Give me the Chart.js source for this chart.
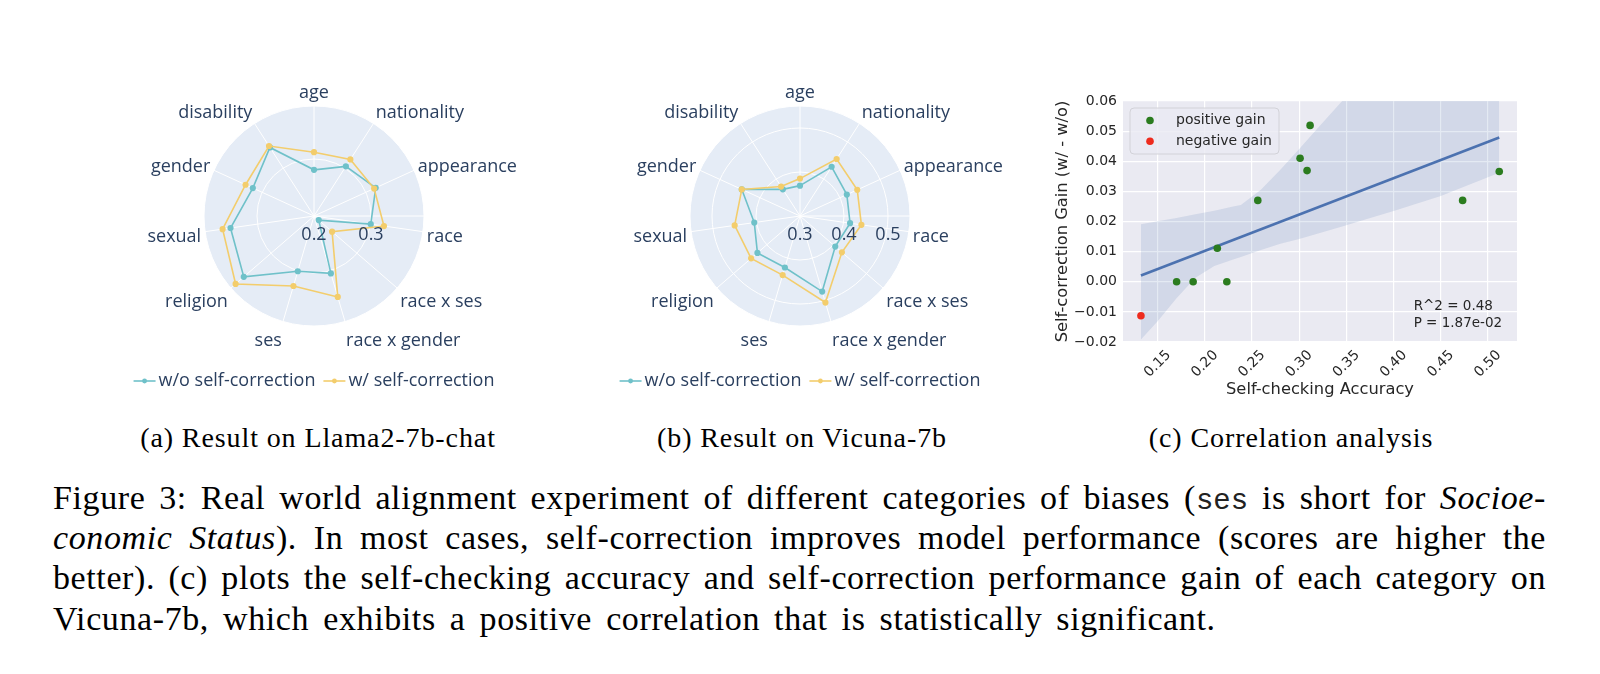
<!DOCTYPE html>
<html>
<head>
<meta charset="utf-8">
<script src="https://cdn.jsdelivr.net/npm/chart.js@4.4.1/dist/chart.umd.min.js"></script>
<style>
  body { margin:0; background:#fff; width:1600px; height:674px; position:relative; overflow:hidden; }
  canvas { position:absolute; }
  #radarA { left:110px; top:70px; }
  #radarB { left:596px; top:70px; }
  #scatterC { left:1020px; top:85px; }
  .sub { position:absolute; top:424px; transform:translateX(-50%); font:28px/28px "Liberation Serif", serif; letter-spacing:0.9px; white-space:nowrap; color:#000; }
  .cap { position:absolute; left:53px; width:1493px; font:34px/34px "Liberation Serif", serif; letter-spacing:0.6px; white-space:nowrap; color:#000; }
  .just { text-align:justify; text-align-last:justify; }
  .cap tt { font-family:"Liberation Mono", monospace; font-size:29px; letter-spacing:0; color:#222; }
</style>
</head>
<body>
<canvas id="radarA" width="420" height="340"></canvas>
<canvas id="radarB" width="420" height="340"></canvas>
<canvas id="scatterC" width="580" height="320"></canvas>

<div class="sub" style="left:318px">(a) Result on Llama2-7b-chat</div>
<div class="sub" style="left:802px">(b) Result on Vicuna-7b</div>
<div class="sub" style="left:1291px">(c) Correlation analysis</div>

<div class="cap just" style="top:481px">Figure 3: Real world alignment experiment of different categories of biases (<tt>ses</tt> is short for <i>Socioe-</i></div>
<div class="cap just" style="top:521px"><i>conomic Status</i>). In most cases, self-correction improves model performance (scores are higher the</div>
<div class="cap just" style="top:561px">better). (c) plots the self-checking accuracy and self-correction performance gain of each category on</div>
<div class="cap" style="top:602px; word-spacing:5px">Vicuna-7b, which exhibits a positive correlation that is statistically significant.</div>

<script>
// DATA
const categories = ['age','nationality','appearance','race','race x ses','race x gender','ses','religion','sexual','gender','disability'];

// (a) Llama2-7b-chat
const llamaWithout = [0.281, 0.3035, 0.319, 0.3006, 0.211, 0.305, 0.301, 0.363, 0.348, 0.318, 0.343];
const llamaWith    = [0.312, 0.318, 0.316, 0.324, 0.242, 0.348, 0.328, 0.382, 0.362, 0.332, 0.346];
const llamaRange = [0.2, 0.393];
const llamaTicks = [0.2, 0.3];

// (b) Vicuna-7b
const vicunaWithout = [0.369, 0.433, 0.417, 0.415, 0.406, 0.479, 0.422, 0.428, 0.405, 0.4455, 0.372];
const vicunaWith    = [0.385, 0.454, 0.443, 0.441, 0.426, 0.505, 0.440, 0.447, 0.450, 0.4455, 0.3795];
const vicunaRange = [0.3, 0.55];
const vicunaTicks = [0.3, 0.4, 0.5];

// (c) correlation (Vicuna-7b, one point per category)
const checkAcc = [0.1323, 0.1701, 0.1876, 0.2132, 0.2233, 0.2561, 0.3009, 0.3083, 0.3115, 0.4731, 0.5119];
const corrGain = [-0.0113, 0.0, 0.0, 0.0111, 0.0, 0.027, 0.041, 0.0369, 0.0519, 0.027, 0.0366];
const fitX = [0.1323, 0.5119];
const fitY = [0.0021, 0.0479];
const bandX     = [0.1323, 0.15, 0.17, 0.19, 0.21, 0.23, 0.2382, 0.2594, 0.28, 0.30, 0.32, 0.3455, 0.37, 0.40, 0.45, 0.5119];
const bandUpper = [0.0191, 0.0201, 0.0212, 0.0224, 0.0236, 0.0250, 0.0255, 0.0305, 0.0372, 0.0441, 0.0511, 0.0600, 0.068, 0.078, 0.092, 0.11];
const bandLower = [-0.0192, -0.0131, -0.0055, 0.0013, 0.0052, 0.0074, 0.0082, 0.0105, 0.0126, 0.0142, 0.0160, 0.0183, 0.0207, 0.0235, 0.0285, 0.0362];
const accRange = [0.1133, 0.5307];
const gainRange = [-0.02, 0.06];
const accTicks = [0.15, 0.20, 0.25, 0.30, 0.35, 0.40, 0.45, 0.50];
const gainTicks = [-0.02, -0.01, 0.00, 0.01, 0.02, 0.03, 0.04, 0.05, 0.06];
const statLines = ['R^2 = 0.48', 'P = 1.87e-02'];

// COLORS
const teal = '#6fc1c9';
const yellow = '#f3cd6c';
const navy = '#2a3f5f';
const green = '#2b7c1f';
const red = '#ee2b1d';
const blue = '#4c72b0';

// RADAR DECORATION (labels, radial axis, legend)
const radarDeco = {
  id:'radarDeco',
  beforeDatasetsDraw(chart){
    const s = chart.scales.r, ctx = chart.ctx;
    ctx.save();
    ctx.strokeStyle = '#fff'; ctx.lineWidth = 1;
    ctx.beginPath(); ctx.moveTo(s.xCenter, s.yCenter); ctx.lineTo(s.xCenter + s.drawingArea, s.yCenter); ctx.stroke();
    ctx.restore();
  },
  afterDraw(chart, args, opts){
    const s = chart.scales.r, ctx = chart.ctx;
    ctx.save();
    ctx.fillStyle = navy;
    ctx.font = '18px "Open Sans"';
    ctx.textBaseline = 'middle';
    // category labels
    chart.data.labels.forEach((lab,i)=>{
      const d = s.drawingArea + 4;
      const p = s.getPointPosition(i, d);
      const c = (p.x - s.xCenter)/d, sn = -(p.y - s.yCenter)/d;
      ctx.textAlign = Math.abs(c) < 0.05 ? 'center' : (c > 0 ? 'left' : 'right');
      ctx.fillText(lab, p.x, p.y + 3 - 12.5*sn);
    });
    // radial tick labels
    ctx.textAlign = 'center';
    opts.ticks.forEach(v=>{
      ctx.fillText(String(v), s.xCenter + s.getDistanceFromCenterForValue(v), s.yCenter + 19);
    });
    // legend
    const ds = chart.data.datasets.slice().sort((a,b)=>b.order-a.order);
    const widths = ds.map(d=>ctx.measureText(d.label).width);
    const sample = 22, gapT = 3, gapI = 8;
    const total = widths.reduce((t,w)=>t+sample+gapT+w,0) + gapI*(ds.length-1);
    let lx = s.xCenter - total/2;
    const ly = s.yCenter + 165;
    ds.forEach((d,i)=>{
      ctx.strokeStyle = d.borderColor; ctx.lineWidth = 1.6;
      ctx.beginPath(); ctx.moveTo(lx, ly); ctx.lineTo(lx+sample, ly); ctx.stroke();
      ctx.fillStyle = d.borderColor;
      ctx.beginPath(); ctx.arc(lx+sample/2, ly, 2.4, 0, Math.PI*2); ctx.fill();
      ctx.fillStyle = navy; ctx.textAlign = 'left';
      ctx.fillText(d.label, lx+sample+gapT, ly);
      lx += sample + gapT + widths[i] + gapI;
    });
    ctx.restore();
  }
};

function makeRadar(id, without, withC, range, ticks){
  return new Chart(document.getElementById(id), {
    type:'radar',
    data:{
      labels:categories,
      datasets:[
        {label:'w/o self-correction', data:without, borderColor:teal, backgroundColor:teal, pointBackgroundColor:teal, pointBorderColor:teal, pointRadius:2.3, borderWidth:1.6, fill:false, order:1},
        {label:'w/ self-correction', data:withC, borderColor:yellow, backgroundColor:yellow, pointBackgroundColor:yellow, pointBorderColor:yellow, pointRadius:2.3, borderWidth:1.6, fill:false, order:0}
      ]
    },
    options:{
      responsive:false, animation:false,
      layout:{padding:{left:94, top:36, right:106, bottom:84}},
      elements:{line:{tension:0}},
      plugins:{legend:{display:false}, tooltip:{enabled:false}, radarDeco:{ticks:ticks}},
      scales:{
        r:{
          min:range[0], max:range[1],
          backgroundColor:'#e5ecf6',
          grid:{circular:true, color:'#ffffff', lineWidth:1},
          angleLines:{color:'#ffffff', lineWidth:1},
          ticks:{display:false, stepSize:0.1},
          pointLabels:{display:false}
        }
      }
    },
    plugins:[radarDeco]
  });
}

makeRadar('radarA', llamaWithout, llamaWith, llamaRange, llamaTicks);
makeRadar('radarB', vicunaWithout, vicunaWith, vicunaRange, vicunaTicks);

// SCATTER + REGRESSION
function fmt(v){ return v.toFixed(2).replace('-', '\u2212'); }
const posPts = [], negPts = [];
checkAcc.forEach((x,i)=>{ (corrGain[i] < 0 ? negPts : posPts).push({x:x, y:corrGain[i]}); });

const scatterDeco = {
  id:'scatterDeco',
  beforeDraw(chart){
    const {ctx, chartArea:a} = chart;
    ctx.save(); ctx.fillStyle = '#eaeaf2';
    ctx.fillRect(a.left, a.top, a.right-a.left, a.bottom-a.top);
    ctx.restore();
  },
  afterDraw(chart){
    const {ctx, chartArea:a, scales:{x, y}} = chart;
    ctx.save();
    ctx.fillStyle = '#262626';
    ctx.font = '14px "DejaVu Sans"';
    ctx.textBaseline = 'middle';
    ctx.textAlign = 'right';
    gainTicks.forEach(v=>ctx.fillText(fmt(v), a.left-6, y.getPixelForValue(v)));
    ctx.textAlign = 'center';
    accTicks.forEach(v=>{
      ctx.save();
      ctx.translate(x.getPixelForValue(v), a.bottom+22);
      ctx.rotate(-Math.PI/4);
      ctx.fillText(v.toFixed(2), 0, 0);
      ctx.restore();
    });
    // axis titles
    ctx.font = '16.3px "DejaVu Sans"';
    ctx.fillText('Self-checking Accuracy', (a.left+a.right)/2, a.bottom+48);
    ctx.save();
    ctx.translate(a.left-60, (a.top+a.bottom)/2);
    ctx.rotate(-Math.PI/2);
    ctx.fillText('Self-correction Gain (w/ - w/o)', 0, 0);
    ctx.restore();
    // legend
    const bx = a.left+7, by = a.top+7, bw = 149, bh = 46;
    ctx.beginPath(); ctx.roundRect(bx, by, bw, bh, 4);
    ctx.fillStyle = 'rgba(234,234,242,0.8)'; ctx.fill();
    ctx.strokeStyle = '#d2d2d8'; ctx.lineWidth = 1; ctx.stroke();
    [[green,'positive gain'],[red,'negative gain']].forEach((it,i)=>{
      const yy = by + 12.5 + i*20.7;
      ctx.fillStyle = it[0];
      ctx.beginPath(); ctx.arc(bx+20, yy, 3.8, 0, Math.PI*2); ctx.fill();
      ctx.fillStyle = '#262626'; ctx.textAlign = 'left'; ctx.font = '14px "DejaVu Sans"';
      ctx.fillText(it[1], bx+46, yy);
    });
    // stats
    ctx.font = '13.5px "DejaVu Sans"';
    ctx.textAlign = 'left';
    const sx = x.getPixelForValue(0.4212);
    ctx.fillText(statLines[0], sx, y.getPixelForValue(-0.0082));
    ctx.fillText(statLines[1], sx, y.getPixelForValue(-0.0137));
    ctx.restore();
  }
};

new Chart(document.getElementById('scatterC'), {
  type:'line',
  data:{
    datasets:[
      {label:'positive gain', type:'scatter', data:posPts, backgroundColor:green, borderColor:green, pointRadius:3.8, pointBorderWidth:0, order:0},
      {label:'negative gain', type:'scatter', data:negPts, backgroundColor:red, borderColor:red, pointRadius:3.8, pointBorderWidth:0, order:0},
      {label:'fit', data:fitX.map((x,i)=>({x:x, y:fitY[i]})), borderColor:blue, borderWidth:2.6, pointRadius:0, fill:false, order:1},
      {label:'upper', data:bandX.map((x,i)=>({x:x, y:bandUpper[i]})), borderWidth:0, borderColor:'rgba(0,0,0,0)', pointRadius:0, fill:false, order:2},
      {label:'lower', data:bandX.map((x,i)=>({x:x, y:bandLower[i]})), borderWidth:0, borderColor:'rgba(0,0,0,0)', pointRadius:0, fill:'-1', backgroundColor:'rgba(76,114,176,0.15)', order:2}
    ]
  },
  options:{
    responsive:false, animation:false,
    layout:{padding:{left:103, top:16, right:83, bottom:63}},
    plugins:{legend:{display:false}, tooltip:{enabled:false}},
    scales:{
      x:{type:'linear', min:accRange[0], max:accRange[1],
         afterBuildTicks:s=>{ s.ticks = accTicks.map(v=>({value:v})); },
         grid:{color:'#ffffff', lineWidth:1.2, drawTicks:false}, border:{display:false}, ticks:{display:false}},
      y:{type:'linear', min:gainRange[0], max:gainRange[1],
         afterBuildTicks:s=>{ s.ticks = gainTicks.map(v=>({value:v})); },
         grid:{color:'#ffffff', lineWidth:1.2, drawTicks:false}, border:{display:false}, ticks:{display:false}}
    }
  },
  plugins:[scatterDeco]
});
</script>
</body>
</html>
